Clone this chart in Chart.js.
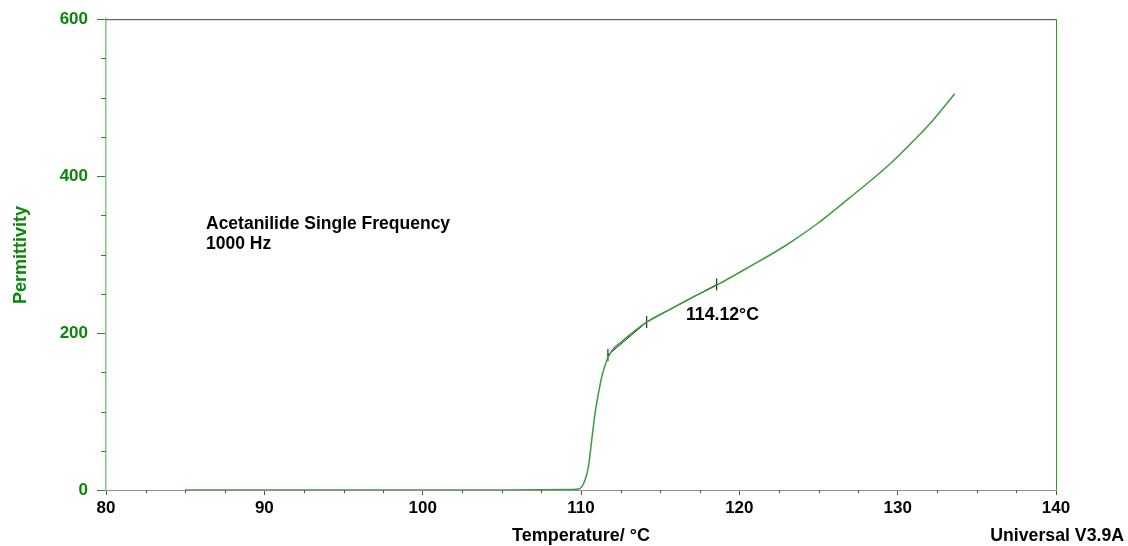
<!DOCTYPE html>
<html>
<head>
<meta charset="utf-8">
<script src="https://cdn.jsdelivr.net/npm/chart.js@4.4.1/dist/chart.umd.min.js"></script>
<style>
  html, body { margin: 0; padding: 0; background: #fff; }
  #wrap { width: 1128px; height: 546px; }
</style>
</head>
<body>
<div id="wrap"><canvas id="dea"></canvas></div>
<script>
// 測定データ（温度 °C / 誘電率）
const temps = [85, 95, 105, 109.5, 109.94, 110.26, 110.47, 110.68, 110.89, 111.1, 111.31, 111.52, 111.73, 112.05, 112.5, 113.1, 113.6, 114.15, 115.5, 117, 118.57, 120.68, 122.8, 124.9, 127, 128.4, 129.7, 131, 132.26, 133.6];
const permittivity = [0, 0, 0, 0.5, 2, 13, 30, 64, 98, 123, 144, 159, 170, 180, 188, 198, 206, 214, 229, 245, 261, 285, 310, 339, 373, 396, 419, 445, 472, 505];

// 接線の解析点
const onsetTemps = [111.7, 114.15, 118.57];
const onsetValues = [172, 214, 262];
const onsetLabel = '114.12°C';

// 軸の目盛り
const xMajorTicks = [80, 90, 100, 110, 120, 130, 140];
const yMajorTicks = [0, 200, 400, 600];

const green = '#0a870a';
const font = '"Liberation Sans", Arial, sans-serif';

// 補助目盛り・枠線・注記を描く
const extras = {
    id: 'extras',
    afterDraw(chart) {
        const { ctx, chartArea: a, scales } = chart;
        const x = scales.x, y = scales.y;
        ctx.save();
        // 上と右の枠
        ctx.lineWidth = 1;
        ctx.strokeStyle = '#404040';
        ctx.beginPath();
        ctx.moveTo(a.left, a.top + 0.5);
        ctx.lineTo(a.right, a.top + 0.5);
        ctx.stroke();
        ctx.strokeStyle = '#22a022';
        ctx.beginPath();
        ctx.moveTo(a.right + 0.5, a.top);
        ctx.lineTo(a.right + 0.5, a.bottom);
        ctx.stroke();

        // 補助目盛り
        ctx.strokeStyle = '#505050';
        for (let v = 82.5; v < 140; v += 2.5) {
            if (v % 10 === 0) continue;
            const px = Math.round(x.getPixelForValue(v)) + 0.5;
            ctx.beginPath();
            ctx.moveTo(px, a.bottom);
            ctx.lineTo(px, a.bottom + 3);
            ctx.stroke();
        }
        ctx.strokeStyle = '#2a8a2a';
        for (let v = 50; v < 600; v += 50) {
            if (v % 200 === 0) continue;
            const py = Math.round(y.getPixelForValue(v)) + 0.5;
            ctx.beginPath();
            ctx.moveTo(a.left - 5, py);
            ctx.lineTo(a.left, py);
            ctx.stroke();
        }

        // テキスト
        ctx.font = 'bold 17.5px ' + font;
        ctx.fillStyle = '#000';
        ctx.textAlign = 'left';
        ctx.textBaseline = 'alphabetic';
        ctx.fillText('Acetanilide Single Frequency', 206, 229);
        ctx.fillText('1000 Hz', 206, 249);

        ctx.font = 'bold 17.7px ' + font;
        ctx.fillText(onsetLabel, 686, 320);

        ctx.textAlign = 'center';
        ctx.font = 'bold 18px ' + font;
        ctx.fillText('Temperature/ °C', 581, 541);
        ctx.textAlign = 'right';
        ctx.font = 'bold 17.7px ' + font;
        ctx.fillText('Universal V3.9A', 1124, 541);

        ctx.translate(26, 255);
        ctx.rotate(-Math.PI / 2);
        ctx.textAlign = 'center';
        ctx.font = 'bold 18px ' + font;
        ctx.fillStyle = green;
        ctx.fillText('Permittivity', 0, 0);
        ctx.restore();
    }
};

const ctx = document.getElementById('dea').getContext('2d');
new Chart(ctx, {
    type: 'line',
    data: {
        datasets: [{
            data: temps.map((t, i) => ({ x: t, y: permittivity[i] })),
            borderColor: '#3c9c3c',
            borderWidth: 1.5,
            pointRadius: 0,
            cubicInterpolationMode: 'monotone',
            fill: false
        }, {
            data: onsetTemps.map((t, i) => ({ x: t, y: onsetValues[i] })),
            borderColor: '#222',
            borderWidth: 1,
            pointStyle: 'line',
            pointRotation: 90,
            pointRadius: 6,
            pointBorderColor: '#000',
            pointBorderWidth: 1,
            tension: 0,
            fill: false
        }]
    },
    options: {
        responsive: true,
        maintainAspectRatio: false,
        animation: false,
        layout: { padding: { top: 19, right: 72, left: 0, bottom: 0 } },
        plugins: { legend: { display: false }, tooltip: { enabled: false } },
        scales: {
            x: {
                type: 'linear',
                min: 80,
                max: 140,
                afterFit(scale) { scale.height = 56; },
                afterBuildTicks(scale) { scale.ticks = xMajorTicks.map(v => ({ value: v })); },
                grid: { drawOnChartArea: false, tickLength: 5, tickColor: '#505050' },
                border: { color: '#909090', width: 1 },
                ticks: { color: '#000', padding: 3, font: { family: font, size: 17, weight: 'bold' } }
            },
            y: {
                type: 'linear',
                min: 0,
                max: 600,
                afterFit(scale) { scale.width = 106; },
                afterBuildTicks(scale) { scale.ticks = yMajorTicks.map(v => ({ value: v })); },
                grid: { drawOnChartArea: false, tickLength: 9, tickColor: '#2a8a2a' },
                border: { color: '#80c880', width: 1.5 },
                ticks: { color: green, padding: 9, font: { family: font, size: 17, weight: 'bold' } }
            }
        }
    },
    plugins: [extras]
});
</script>
</body>
</html>
